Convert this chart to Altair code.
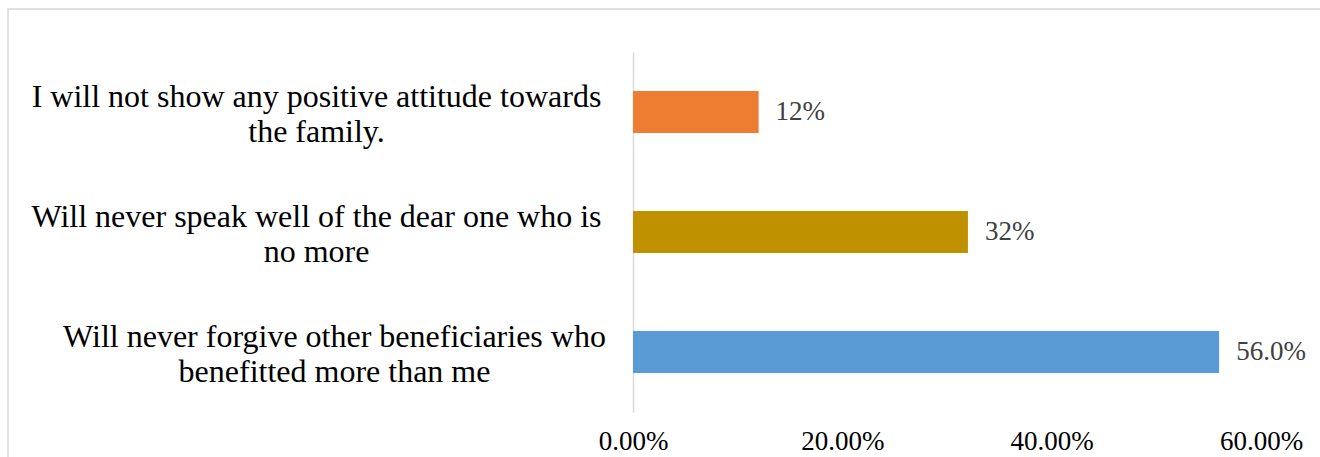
import altair as alt
import pandas as pd

categories = [
    "I will not show any positive attitude towards|the family.",
    "Will never speak well of the dear one who is|no more",
    "Will never forgive other beneficiaries who|benefitted more than me",
]
values = [0.12, 0.32, 0.56]
value_labels = ["12%", "32%", "56.0%"]
colors = ["#ED7D31", "#BF9000", "#5B9BD5"]
tick_values = [0, 0.2, 0.4, 0.6]

df = pd.DataFrame({"cat": categories, "val": values, "lab": value_labels})

FONT = "'Liberation Serif', 'Times New Roman', serif"

y_enc = alt.Y(
    "cat:N",
    sort=categories,
    scale=alt.Scale(paddingInner=0.65, paddingOuter=0.325),
    axis=alt.Axis(
        title=None,
        labelExpr="split(datum.label, '|')",
        labelAlign="center",
        labelBaseline="middle",
        labelPadding={
            "condition": {"test": "indexof(datum.value, 'forgive') >= 0", "value": 299},
            "value": 317,
        },
        labelOffset=-15,
        labelFont=FONT,
        labelFontSize=32,
        labelLineHeight=35,
        labelColor="#000000",
        labelLimit=0,
        ticks=False,
        domain=True,
        domainColor="#D9D9D9",
        domainWidth=1.5,
    ),
)

x_enc = alt.X(
    "val:Q",
    scale=alt.Scale(domain=[0, 0.6], nice=False),
    axis=alt.Axis(
        title=None,
        values=tick_values,
        format=".2%",
        grid=False,
        ticks=False,
        domain=False,
        labelFont=FONT,
        labelFontSize=27,
        labelColor="#000000",
        labelPadding=16,
        labelFlush=False,
    ),
)

bars = alt.Chart(df).mark_bar().encode(
    x=x_enc,
    y=y_enc,
    color=alt.Color("cat:N", scale=alt.Scale(domain=categories, range=colors), legend=None),
)

text = alt.Chart(df).mark_text(
    align="left", baseline="middle", dx=17, font=FONT, fontSize=27, color="#404040"
).encode(x="val:Q", y=alt.Y("cat:N", sort=categories), text="lab:N")

border = alt.Chart(alt.Data(values=[{}])).mark_rect(
    fill=None, stroke="#D9D9D9", strokeWidth=1.5
).encode(
    x=alt.value(-625), x2=alt.value(720), y=alt.value(-43), y2=alt.value(440)
)

chart = alt.layer(border, bars, text).properties(
    width=628,
    height=360,
    background="white",
    autosize=alt.AutoSizeParams(type="none"),
    padding={"left": 633, "top": 52, "right": 59, "bottom": 45},
).configure_view(stroke="transparent", strokeWidth=0)

chart.save("out.html", embed_options={"renderer": "svg", "actions": False})
